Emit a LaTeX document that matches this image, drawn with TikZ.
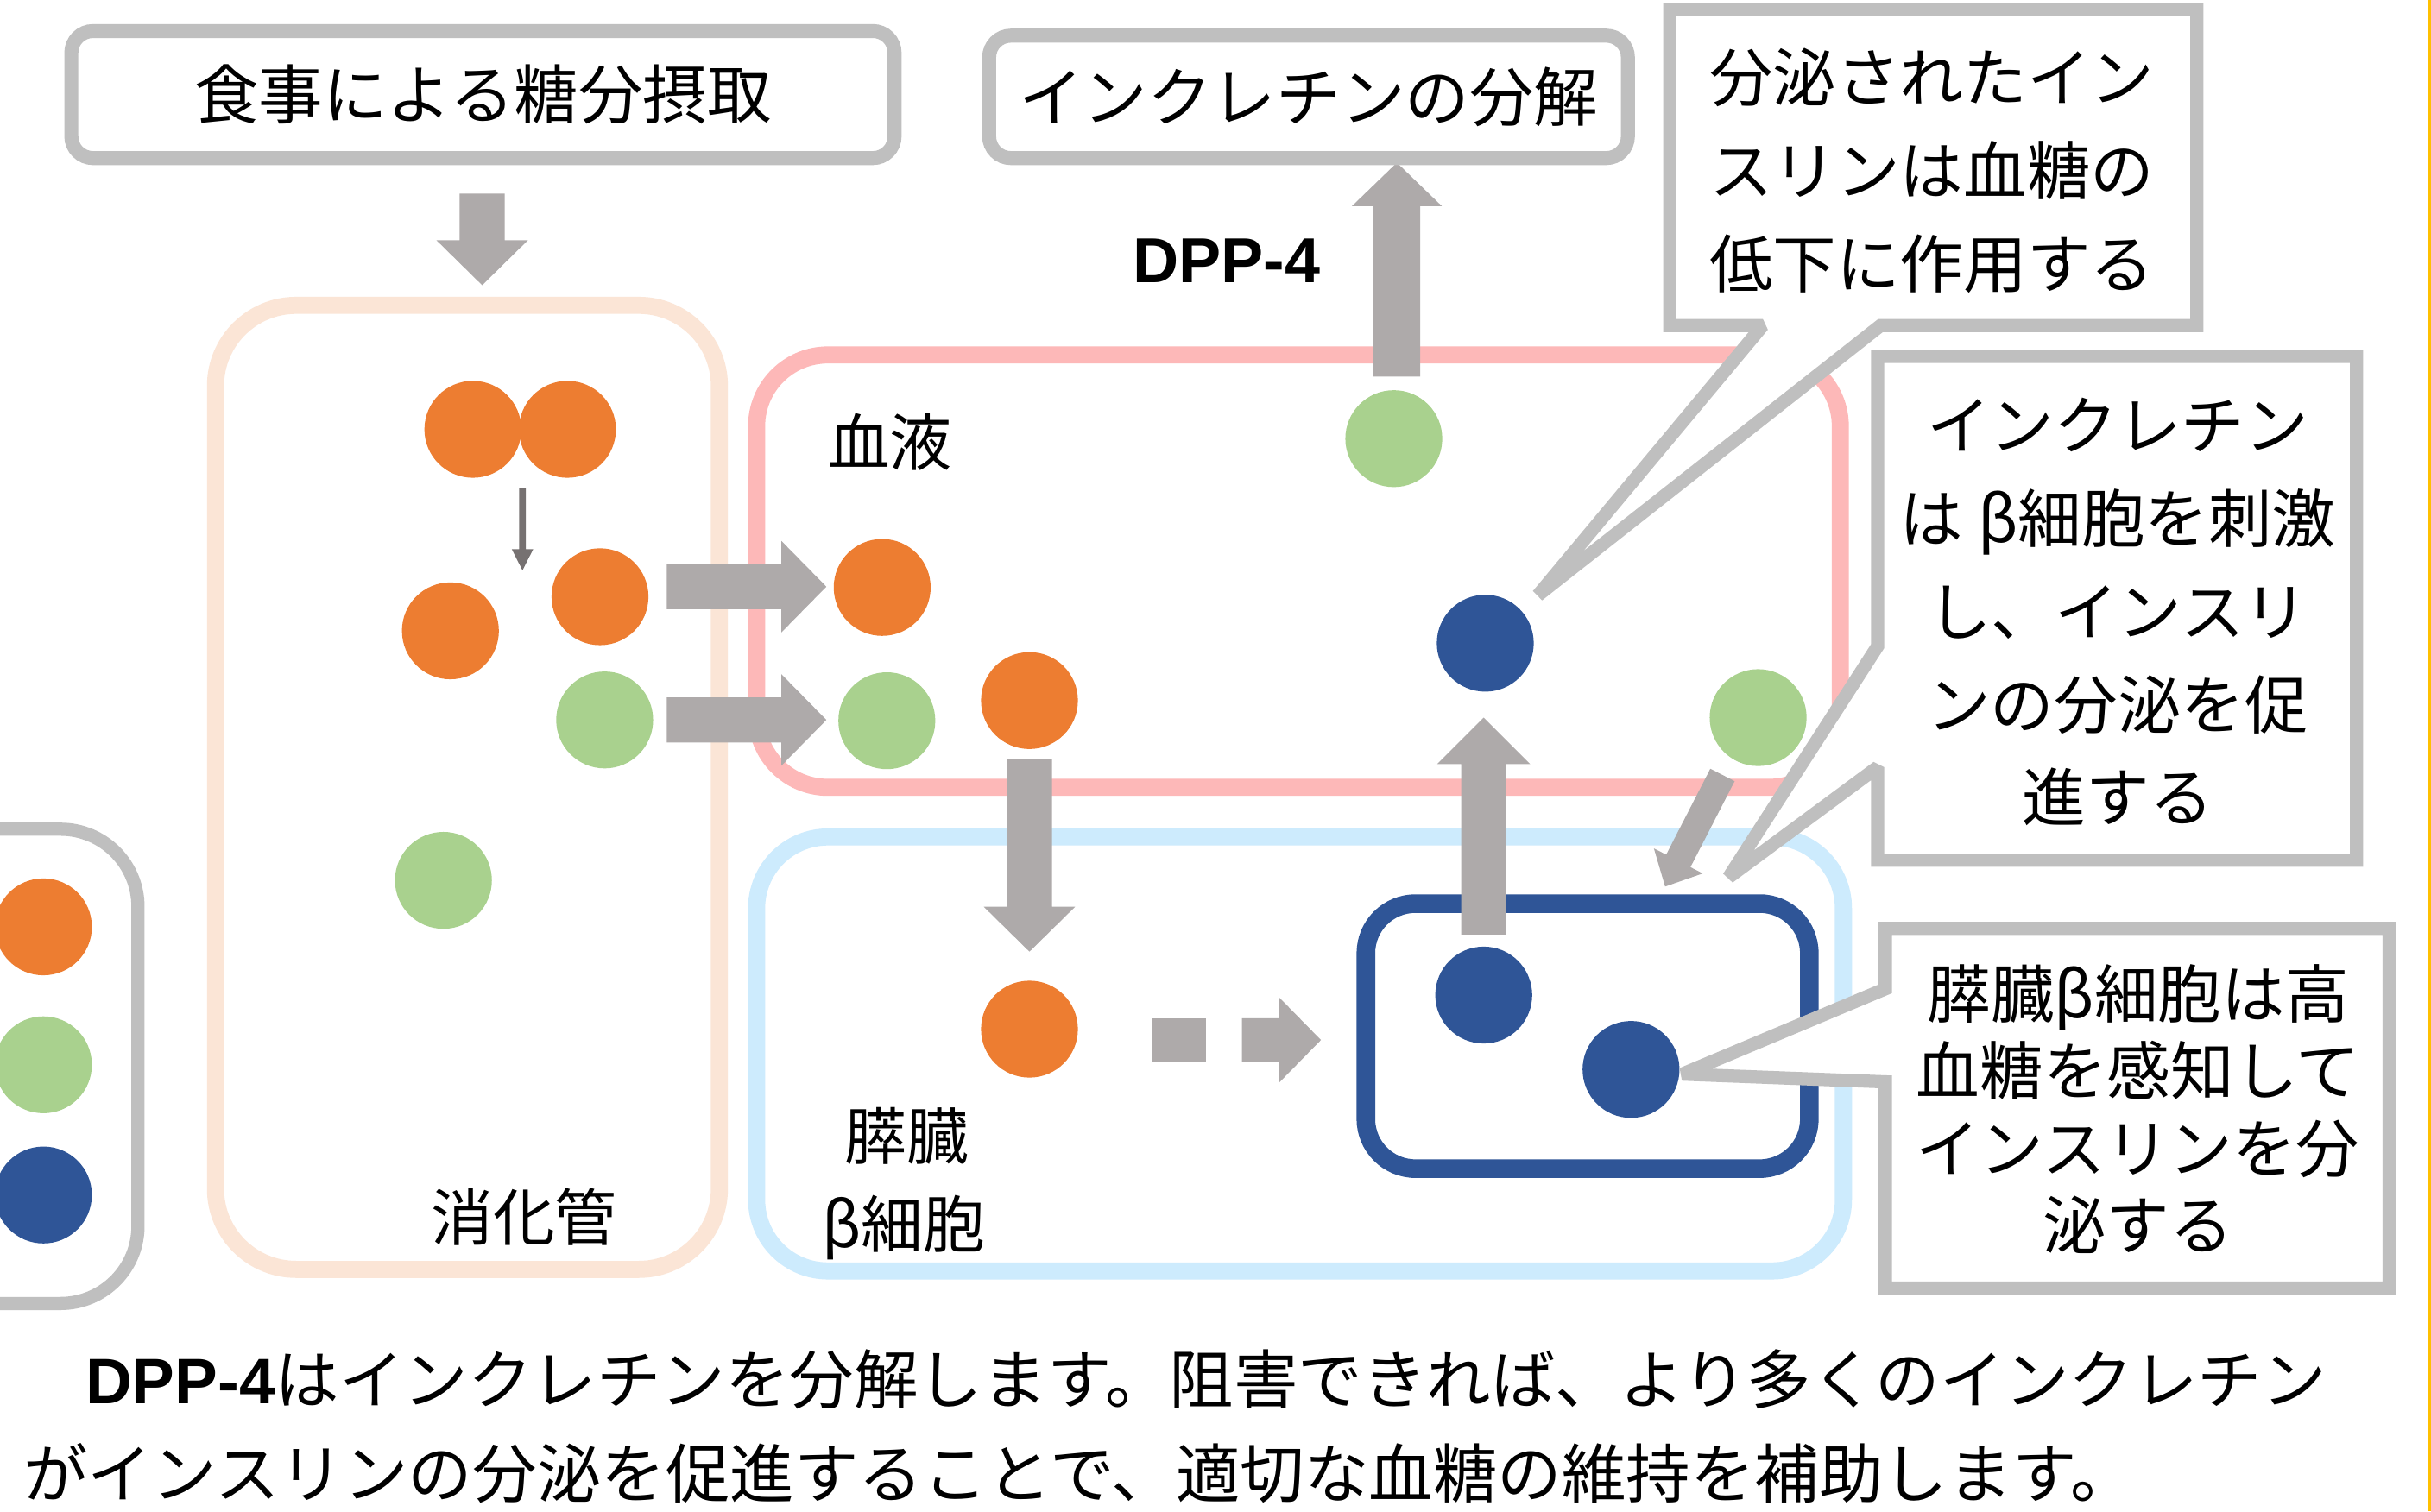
\documentclass[tikz,border=0pt]{standalone}
\usepackage{fontspec}
\setmainfont{Noto Sans CJK JP}
\newfontfamily\dppfamily{Liberation Sans}
\usetikzlibrary{calc}
\definecolor{boxgray}{HTML}{BFBFBF}
\definecolor{arrgray}{HTML}{AEAAAA}
\definecolor{darkarr}{HTML}{767171}
\definecolor{sugar}{HTML}{ED7D31}
\definecolor{incretin}{HTML}{A9D18E}
\definecolor{insulin}{HTML}{2F5597}
\definecolor{peach}{HTML}{FBE5D6}
\definecolor{pinkb}{HTML}{FDB8B8}
\definecolor{skyb}{HTML}{CDEBFD}
\definecolor{goldline}{HTML}{FFC000}
\newcommand\blkarrow[6][arrgray]{%
  \coordinate (bah) at ($(#3)!#6!(#2)$);
  \fill[#1] ($(#2)!#4!90:(#3)$) -- ($(bah)!#4!90:(#3)$) -- ($(bah)!#5!90:(#3)$) -- (#3)
    -- ($(bah)!#5!-90:(#3)$) -- ($(bah)!#4!-90:(#3)$) -- ($(#2)!#4!-90:(#3)$) -- cycle;}
\newcommand\dppfont{\dppfamily\bfseries}
\begin{document}
\begin{tikzpicture}[x=1pt,y=-1pt,
  circ/.style={circle, minimum size=62.5pt, inner sep=0pt},
  region/.style={draw, line width=11pt, inner sep=0pt},
  graybox/.style={draw=boxgray, line width=9pt, rounded corners=14pt, fill=white, inner sep=0pt, font=\fontsize{41.5}{50}\selectfont},
  callout/.style={draw=boxgray, fill=white, line width=8.5pt, line join=miter, miter limit=2},
  txt/.style={inner sep=0pt, font=\fontsize{41}{60}\selectfont, align=center},
  lbl/.style={inner sep=0pt, font=\fontsize{40}{40}\selectfont},
]
\useasboundingbox (0,0) rectangle (1568,975);
\fill[white] (0,0) rectangle (1568,975);
\fill[goldline] (1565.7,0) rectangle (1568,975);

% legend (cut off at left)
\node[draw=boxgray, line width=8.5pt, rounded corners=50pt, minimum width=150pt, minimum height=306pt, inner sep=0pt] (legend) at (14,688) {};
\node[circ, fill=sugar] (lg1) at (28,598) {};
\node[circ, fill=incretin] (lg2) at (28,687) {};
\node[circ, fill=insulin] (lg3) at (28,771) {};

% regions
\node[region, draw=peach, minimum width=325pt, minimum height=622pt, rounded corners=52pt] (gut) at (301.5,508) {};
\node[region, draw=pinkb, minimum width=699pt, minimum height=279pt, rounded corners=46pt] (blood) at (837.5,368.5) {};
\node[region, draw=skyb, minimum width=701pt, minimum height=280pt, rounded corners=46pt] (pancreas) at (838.5,680) {};
\node[draw=insulin, line width=12pt, rounded corners=32pt, minimum width=286pt, minimum height=171pt, inner sep=0pt] (beta) at (1024,668.5) {};

% circles in digestive tract
\node[circ, fill=sugar] (gs1) at (305,277) {};
\node[circ, fill=sugar] (gs2) at (366,277) {};
\node[circ, fill=sugar] (gs3) at (290.5,407) {};
\node[circ, fill=sugar] (gs4) at (387,385) {};
\node[circ, fill=incretin] (gi1) at (390,464.5) {};
\node[circ, fill=incretin] (gi2) at (286,568) {};
% circles in blood
\node[circ, fill=incretin] (bi1) at (899,283) {};
\node[circ, fill=sugar] (bs1) at (569,379) {};
\node[circ, fill=incretin] (bi2) at (572,465) {};
\node[circ, fill=sugar] (bs2) at (664,452) {};
\node[circ, fill=insulin] (bn1) at (958,415) {};
\node[circ, fill=incretin] (bi3) at (1134,463) {};
% circles in pancreas
\node[circ, fill=sugar] (ps1) at (664,664) {};
\node[circ, fill=insulin] (pn1) at (957,642) {};
\node[circ, fill=insulin] (pn2) at (1052,690) {};

% arrows
\coordinate (m1) at (311,125); \coordinate (m2) at (311,184);
\blkarrow{m1}{m2}{14.5pt}{29.5pt}{29pt}
\coordinate (k1) at (337,315); \coordinate (k2) at (337,368);
\blkarrow[darkarr]{k1}{k2}{2.1pt}{6.9pt}{13.7pt}
\coordinate (r1s) at (430,378.5); \coordinate (r1e) at (533,378.5);
\blkarrow{r1s}{r1e}{14.5pt}{29.5pt}{29pt}
\coordinate (r2s) at (430,464.5); \coordinate (r2e) at (533,464.5);
\blkarrow{r2s}{r2e}{14.5pt}{29.5pt}{29pt}
\coordinate (d1s) at (664,490); \coordinate (d1e) at (664,614);
\blkarrow{d1s}{d1e}{14.5pt}{29.5pt}{29pt}
\coordinate (u1s) at (957,603); \coordinate (u1e) at (957,463);
\blkarrow{u1s}{u1e}{14.5pt}{30pt}{30pt}
\coordinate (u2s) at (901,243); \coordinate (u2e) at (901,105);
\blkarrow{u2s}{u2e}{15pt}{29pt}{28pt}
\coordinate (g2s) at (1111,500); \coordinate (g2e) at (1074,572);
\blkarrow{g2s}{g2e}{8.8pt}{17.7pt}{18.6pt}
\coordinate (dq1) at (743,657); \coordinate (dq2) at (778,685);
\fill[arrgray] (dq1) rectangle (dq2);
\coordinate (ds) at (801,671); \coordinate (de) at (852,671);
\blkarrow{ds}{de}{14pt}{27.5pt}{27pt}

% top boxes
\node[graybox, minimum width=531pt, minimum height=82pt] (meal) at (311.5,61) {食事による糖分摂取};
\node[graybox, minimum width=412pt, minimum height=79pt] (degrade) at (844,62.5) {インクレチンの分解};
\node[inner sep=0pt, font={\fontsize{41}{41}\selectfont\dppfont}] (dpp) at (791,168) {DPP-4};

% callouts
\filldraw[callout] (1077,6) -- (1417,6) -- (1417,210) -- (1213,210) -- (992,384) -- (1137,210) -- (1077,210) -- cycle;
\filldraw[callout] (1211,230) -- (1520,230) -- (1520,555) -- (1211,555) -- (1211,495) -- (1115,566) -- (1211,417) -- cycle;
\filldraw[callout] (1216,599) -- (1541,599) -- (1541,831) -- (1216,831) -- (1216,698) -- (1085,693) -- (1216,638) -- cycle;

\node[txt, align=left] (c1txt) at (1246,110) {分泌されたイン\\スリンは血糖の\\低下に作用する};
\node[txt] (c2txt) at (1366,395) {インクレチン\\は β細胞を刺激\\し、インスリ\\ンの分泌を促\\進する};
\node[txt, font=\fontsize{41}{49.7}\selectfont] (c3txt) at (1379,715.5) {膵臓β細胞は高\\血糖を感知して\\インスリンを分\\泌する};

% region labels
\node[lbl] (bloodlbl) at (574,285) {血液};
\node[lbl] (gutlbl) at (338,785) {消化管};
\node[lbl] (panclbl) at (585,733) {膵臓};
\node[lbl] (betalbl) at (583,792) {β細胞};

% bottom note
\node[anchor=base west, inner sep=0pt, font=\fontsize{41.5}{50}\selectfont] (note1) at (55,905.6) {{\dppfont DPP-4}はインクレチンを分解します。阻害できれば、より多くのインクレチン};
\node[anchor=base west, inner sep=0pt, font=\fontsize{41.5}{50}\selectfont] (note2) at (15,966.6) {がインスリンの分泌を促進することで、適切な血糖の維持を補助します。};
\end{tikzpicture}
\end{document}
